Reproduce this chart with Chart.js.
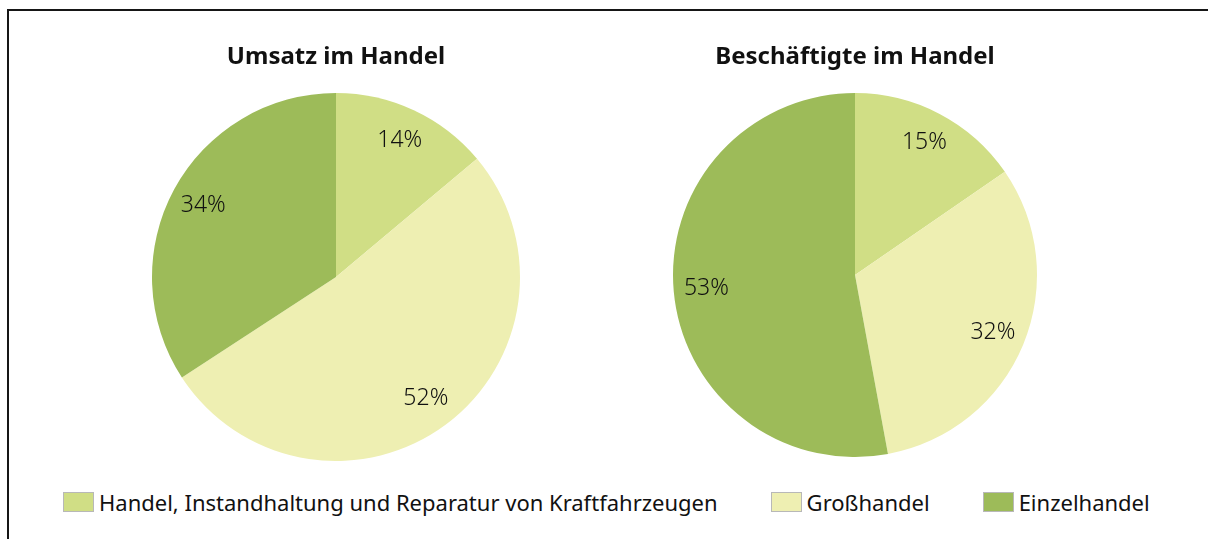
<!DOCTYPE html>
<html>
<head>
<meta charset="utf-8">
<script src="https://cdn.jsdelivr.net/npm/chart.js@4.4.1/dist/chart.umd.min.js"></script>
<style>
  html, body { margin: 0; padding: 0; background: #fff; }
  #wrap { position: relative; width: 1208px; height: 539px; overflow: hidden; background: #fff; }
  #frame { position: absolute; left: 7px; top: 9px; width: 1210px; height: 540px;
           border-top: 2px solid #161616; border-left: 2px solid #161616; }
  canvas { position: absolute; }
  #legend { position: absolute; left: 63px; top: 487px; display: flex; align-items: center;
            font-family: "Noto Sans", sans-serif; font-size: 22px; color: #111; }
  .item { display: flex; align-items: center; margin-right: 53px; }
  .box { width: 31px; height: 20px; box-sizing: border-box; border: 1px solid #b8b8b8; margin-right: 5px; }
</style>
</head>
<body>
<div id="wrap">
  <div id="frame"></div>
  <canvas id="pieUmsatz" width="400" height="431" style="left:136px;top:30px"></canvas>
  <canvas id="pieBesch" width="400" height="427" style="left:655px;top:30px"></canvas>
  <div id="legend"></div>
</div>
<script>
// Kategorien und Werte (Anteile in %)
const kategorien = ['Handel, Instandhaltung und Reparatur von Kraftfahrzeugen', 'Großhandel', 'Einzelhandel'];
const farben = ['#d0de85', '#eeefb2', '#9dbb59'];
const umsatzWerte = [13.9, 51.9, 34.2];
const beschaeftigteWerte = [15.4, 31.7, 52.9];
const titel = ['Umsatz im Handel', 'Beschäftigte im Handel'];

// Prozent-Beschriftung in den Segmenten
const labelPlugin = {
  id: 'sliceLabels',
  afterDatasetsDraw(chart) {
    const ctx = chart.ctx;
    const meta = chart.getDatasetMeta(0);
    const values = chart.data.datasets[0].data;
    ctx.save();
    ctx.font = '300 23px "Noto Sans", sans-serif';
    ctx.fillStyle = '#111';
    ctx.textAlign = 'center';
    ctx.textBaseline = 'middle';
    meta.data.forEach((arc, i) => {
      const p = arc.getProps(['x', 'y', 'startAngle', 'endAngle', 'outerRadius'], true);
      const mid = (p.startAngle + p.endAngle) / 2;
      const r = p.outerRadius * 0.82;
      ctx.fillText(Math.round(values[i]) + '%', p.x + Math.cos(mid) * r, p.y + Math.sin(mid) * r);
    });
    ctx.restore();
  }
};

function makePie(id, text, werte) {
  const ctx = document.getElementById(id).getContext('2d');
  return new Chart(ctx, {
    type: 'pie',
    data: {
      labels: kategorien,
      datasets: [{
        data: werte,
        backgroundColor: farben,
        borderWidth: 0
      }]
    },
    options: {
      responsive: false,
      animation: false,
      layout: { padding: 0 },
      plugins: {
        legend: { display: false },
        tooltip: { enabled: false },
        title: {
          display: true,
          text: text,
          color: '#111',
          font: { family: '"Noto Sans", sans-serif', size: 24, weight: 'bold', lineHeight: 1.2 },
          padding: { top: 13, bottom: 21.2 }
        }
      }
    },
    plugins: [labelPlugin]
  });
}

makePie('pieUmsatz', titel[0], umsatzWerte);
makePie('pieBesch', titel[1], beschaeftigteWerte);

// gemeinsame Legende
const legendEl = document.getElementById('legend');
kategorien.forEach((name, i) => {
  const item = document.createElement('div');
  item.className = 'item';
  const box = document.createElement('span');
  box.className = 'box';
  box.style.background = farben[i];
  const label = document.createElement('span');
  label.textContent = name;
  item.appendChild(box);
  item.appendChild(label);
  legendEl.appendChild(item);
});
</script>
</body>
</html>
